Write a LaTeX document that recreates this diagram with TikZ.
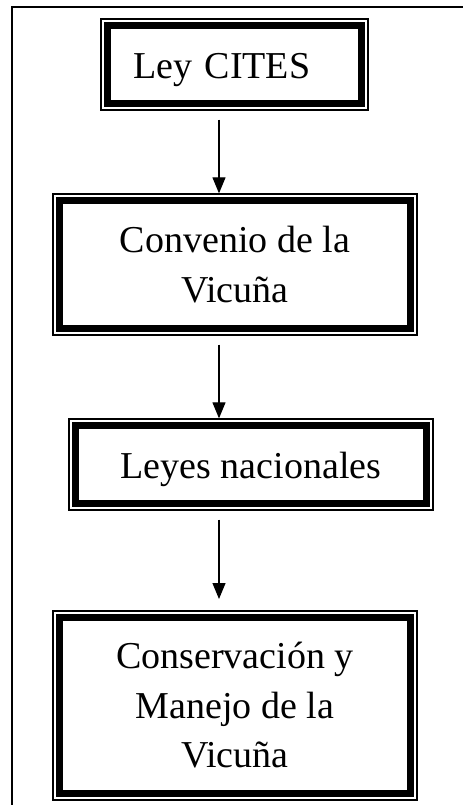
\documentclass[tikz,border=0pt]{standalone}
\usepackage{fontspec}
\setmainfont{Liberation Serif}
\usetikzlibrary{arrows.meta}
\begin{document}
\begin{tikzpicture}[x=1pt,y=-1pt,
  dblbox/.style={draw, line width=1.3pt, inner sep=0pt,
    font=\fontsize{38}{49.5}\selectfont, align=center,
    path picture={\draw[line width=7pt]
      ([shift={(6.2pt,-6.2pt)}]path picture bounding box.north west) rectangle
      ([shift={(-6.2pt,6.2pt)}]path picture bounding box.south east);}},
  arr/.style={line width=1.2pt, shorten <=9pt, -{Triangle[length=16pt,width=13pt]}},
  frameline/.style={line width=1.3pt}]
\useasboundingbox (0,0) rectangle (463,805);
\coordinate (fbl) at (12,805);
\coordinate (ftl) at (12,7);
\coordinate (ftr) at (463,7);
\draw[frameline] (fbl) -- (ftl) -- (ftr);

\node[dblbox, minimum width=267pt, minimum height=91pt, text width=203pt, align=left,
      text height=37pt, text depth=8pt] (b1) at (234.5,64.5) {Ley CITES};
\node[dblbox, minimum width=364pt, minimum height=141pt] (b2) at (235,264.5)
      {Convenio de la\\Vicuña};
\node[dblbox, minimum width=364pt, minimum height=91pt, text height=35pt, text depth=8pt]
      (b3) at (251,464.5) {Leyes nacionales};
\node[dblbox, minimum width=364pt, minimum height=189pt] (b4) at (235,705.5)
      {Conservación y\\Manejo de la\\Vicuña};

\coordinate (ax) at (219,0);
\coordinate (a3end) at (219,599);
\draw[arr] (b1.south -| ax) -- (b2.north -| ax);
\draw[arr] (b2.south -| ax) -- (b3.north -| ax);
\draw[arr] (b3.south -| ax) -- (a3end);
\end{tikzpicture}
\end{document}
